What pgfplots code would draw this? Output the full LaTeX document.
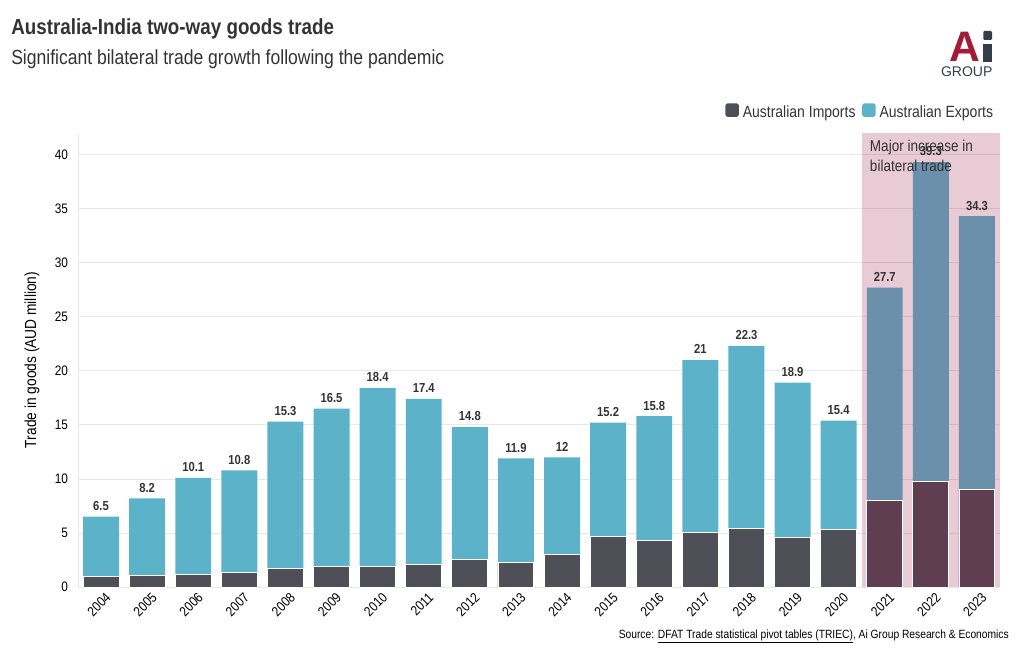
\documentclass[border=0pt]{standalone}
\usepackage{pgfplots}
\pgfplotsset{compat=1.18}
\usepackage{pgfplotstable}
\usepackage{fontspec}
\setmainfont[FakeStretch=0.86]{Liberation Sans}
\newfontfamily\logofont{Liberation Sans}
\definecolor{imp}{RGB}{78,79,87}
\definecolor{expc}{RGB}{91,178,201}
\definecolor{aired}{RGB}{157,25,69}
\definecolor{imph}{RGB}{94,62,80}
\definecolor{exph}{RGB}{106,144,171}
\definecolor{txt}{RGB}{51,51,51}
\definecolor{gridc}{RGB}{232,232,232}
\definecolor{logored}{RGB}{163,28,55}
\definecolor{logodark}{RGB}{52,62,72}

\pgfplotstableread{
x imp tot
0 0.96 6.5
1 1.05 8.2
2 1.17 10.1
3 1.36 10.8
4 1.70 15.3
5 1.88 16.5
6 1.88 18.4
7 2.07 17.4
8 2.53 14.8
9 2.25 11.9
10 3.00 12
11 4.66 15.2
12 4.30 15.8
13 5.00 21
14 5.40 22.3
15 4.56 18.9
16 5.28 15.4
}\normaldata
\pgfplotstableread{
x imp tot
17 7.99 27.7
18 9.79 39.3
19 9.00 34.3
}\highdata

\begin{document}
\begin{tikzpicture}
\path (0pt,0pt) rectangle (765pt,487.5pt);
% titles
\node[anchor=base west, inner sep=0, text=txt, font=\bfseries\fontsize{16.4}{19}\selectfont] at (8.25pt,461.25pt) {Australia-India two-way goods trade};
\node[anchor=base west, inner sep=0, text=txt, font=\fontsize{15.3}{18}\selectfont] at (8.25pt,438.75pt) {Significant bilateral trade growth following the pandemic};
% logo
\node[anchor=base west, inner sep=0, text=logored, font=\logofont\bfseries\fontsize{32}{32}\selectfont] at (712pt,441pt) {A};
\fill[logodark, rounded corners=0.8pt] (737.5pt,457.5pt) rectangle (744pt,464.25pt);
\fill[logodark] (737.5pt,441pt) rectangle (744pt,454.5pt);
\node[anchor=base, inner sep=0, text=logodark, font=\logofont\fontsize{10.5}{12}\selectfont] at (725pt,429.75pt) {GROUP};
% y label
\node[rotate=90, text=black, font=\fontsize{12}{14}\selectfont] at (24pt,217.5pt) {Trade in goods (AUD million)};
% source
\node[anchor=base east, inner sep=0, text=black, font=\fontsize{8.95}{10}\selectfont] at (756.75pt,9pt) {Source: \underline{DFAT Trade statistical pivot tables (TRIEC)}, Ai Group Research \& Economics};

\begin{axis}[
  at={(58.5pt,47.25pt)}, anchor=south west,
  width=691.5pt, height=340.5pt, scale only axis,
  xmin=-0.5, xmax=19.5, ymin=0, ymax=42,
  axis lines*=left,
  x axis line style={draw=none},
  y axis line style={draw=gridc, line width=0.6pt},
  major tick length=0pt,
  ymajorgrids, grid style={draw=gridc, line width=0.6pt},
  ytick={0,5,...,40},
  xtick={0,...,19},
  xticklabels={2004,2005,2006,2007,2008,2009,2010,2011,2012,2013,2014,2015,2016,2017,2018,2019,2020,2021,2022,2023},
  /pgf/number format/assume math mode=true,
  yticklabel style={font=\fontsize{10.3}{12}\selectfont, text=black, xshift=-4pt},
  xticklabel style={rotate=45, anchor=north east, font=\fontsize{10.3}{12}\selectfont, text=black, xshift=3pt, yshift=-1pt},
  legend columns=2,
  legend style={draw=none, fill=none, at={(1,1)}, anchor=south east, xshift=-1pt, yshift=7pt,
    font=\fontsize{12.2}{14}\selectfont, text=txt,
    /tikz/every even column/.append style={column sep=4pt},
    nodes={inner sep=1pt}},
  legend image code/.code={\fill[#1, rounded corners=1.6pt] (0pt,-3.2pt) rectangle (10pt,6.8pt); \path (12pt,0pt);},
]
\addlegendimage{fill=imp, draw=none}
\addlegendentry{Australian Imports}
\addlegendimage{fill=expc, draw=none}
\addlegendentry{Australian Exports}

\fill[aired, opacity=0.226] (axis cs:16.5,0) rectangle (axis cs:19.5,42);

\addplot[ybar, bar width=0.78, bar shift=0pt, fill=expc, draw=none, forget plot,
  point meta=explicit symbolic,
  nodes near coords={\pgfplotspointmeta},
  nodes near coords style={font=\bfseries\fontsize{9.8}{11}\selectfont, text=txt, anchor=south, yshift=1pt}]
  table[x=x, y=tot, meta=tot] {\normaldata};
\addplot[ybar, bar width=0.78, bar shift=0pt, fill=exph, draw=none, forget plot,
  point meta=explicit symbolic,
  nodes near coords={\pgfplotspointmeta},
  nodes near coords style={font=\bfseries\fontsize{9.8}{11}\selectfont, text=txt, anchor=south, yshift=1pt}]
  table[x=x, y=tot, meta=tot] {\highdata};
\addplot[ybar, bar width=0.78, bar shift=0pt, fill=imp, draw=white, line width=0.7pt, forget plot]
  table[x=x, y=imp] {\normaldata};
\addplot[ybar, bar width=0.78, bar shift=0pt, fill=imph, draw=white, line width=0.7pt, forget plot]
  table[x=x, y=imp] {\highdata};

\node[anchor=north west, align=left, text=txt, font=\fontsize{11.8}{15}\selectfont, inner sep=0pt] at ([xshift=6pt,yshift=-5pt]axis cs:16.5,42) {Major increase in\\bilateral trade};
\end{axis}
\end{tikzpicture}
\end{document}
